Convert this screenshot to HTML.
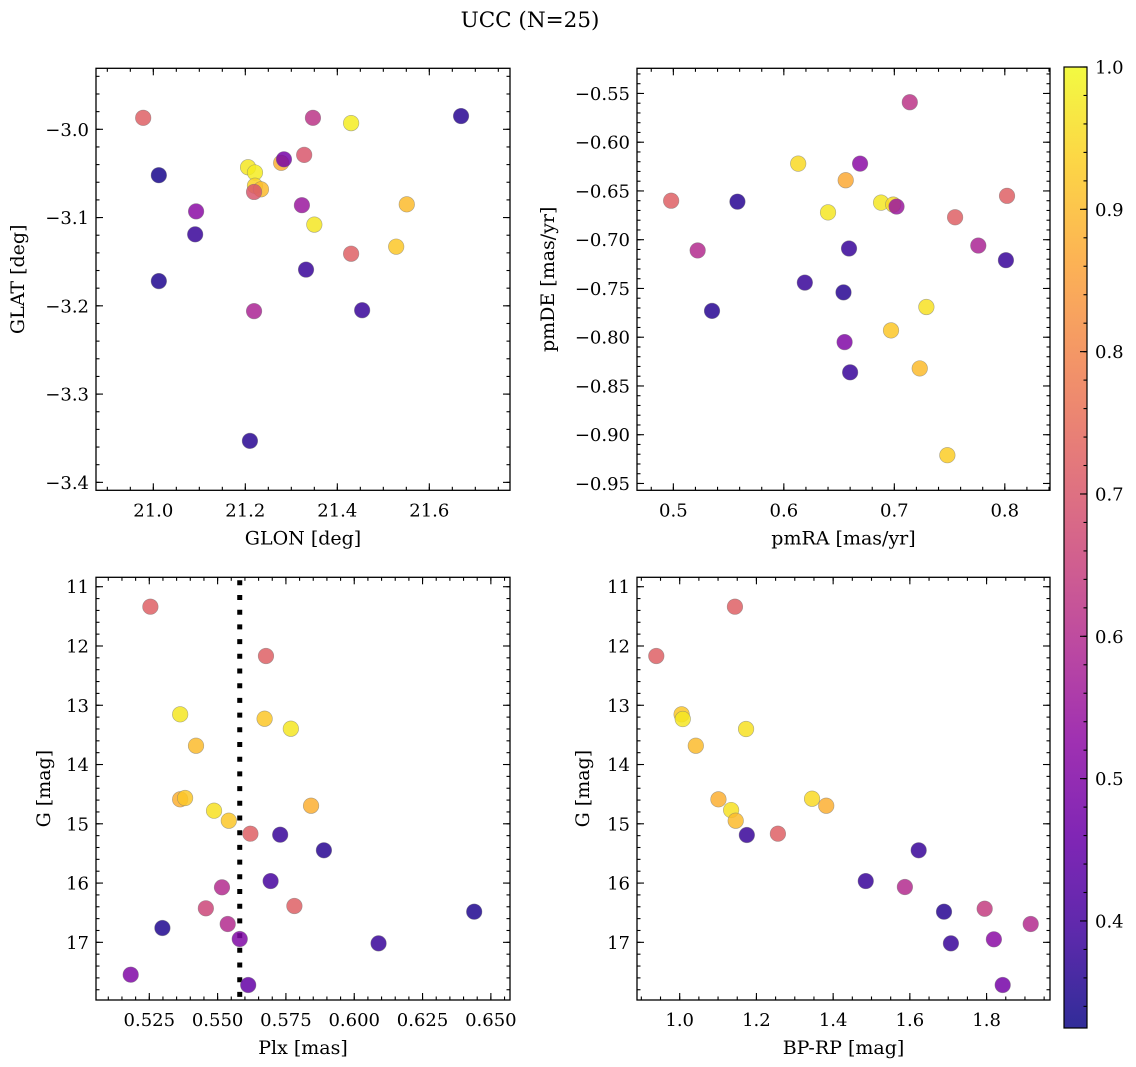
<!DOCTYPE html>
<html><head><meta charset="utf-8">
<style>
html,body{margin:0;padding:0;background:#fff;}
svg{display:block;font-family:"DejaVu Serif","Liberation Serif",serif;}
</style></head>
<body>
<svg id="fig" width="1136" height="1067" viewBox="0 0 1136 1067" xmlns="http://www.w3.org/2000/svg">
<text x="530" y="27" text-anchor="middle" font-size="21.5">UCC (N=25)</text>
</svg>
<script>
// Panel 1: GLON vs GLAT
const glonVals=[20.978,21.012,21.012,21.093,21.091,21.206,21.221,21.221,21.234,21.219,21.278,21.284,21.328,21.347,21.323,21.350,21.332,21.219,21.210,21.430,21.430,21.454,21.551,21.528,21.669];
const glatVals=[-2.987,-3.052,-3.172,-3.093,-3.119,-3.043,-3.049,-3.064,-3.068,-3.071,-3.038,-3.034,-3.029,-2.987,-3.086,-3.108,-3.159,-3.206,-3.353,-2.993,-3.141,-3.205,-3.085,-3.133,-2.985];
const probP1=[0.72,0.34,0.35,0.52,0.38,0.97,0.98,0.94,0.9,0.7,0.88,0.48,0.7,0.62,0.55,0.97,0.38,0.58,0.36,0.98,0.72,0.38,0.9,0.92,0.36];
// Panel 2: pmRA vs pmDE
const pmraVals=[0.498,0.522,0.535,0.558,0.619,0.613,0.640,0.656,0.659,0.654,0.655,0.660,0.669,0.688,0.699,0.702,0.697,0.729,0.723,0.748,0.714,0.755,0.776,0.802,0.801];
const pmdeVals=[-0.660,-0.711,-0.773,-0.661,-0.744,-0.622,-0.672,-0.639,-0.709,-0.754,-0.805,-0.836,-0.622,-0.662,-0.664,-0.666,-0.793,-0.769,-0.832,-0.921,-0.559,-0.677,-0.706,-0.655,-0.721];
const probP2=[0.72,0.6,0.36,0.36,0.38,0.95,0.97,0.87,0.38,0.36,0.5,0.38,0.52,0.97,0.95,0.55,0.92,0.96,0.9,0.93,0.62,0.72,0.58,0.72,0.38];
// Panel 3: Plx vs G
const plxVals=[0.5254,0.5677,0.5363,0.5672,0.5768,0.5421,0.5363,0.5381,0.5487,0.5541,0.5842,0.5620,0.5729,0.5889,0.5694,0.5516,0.5457,0.5781,0.6439,0.5298,0.5537,0.5581,0.6089,0.5182,0.5612];
const gP3Vals=[11.337,12.169,13.153,13.227,13.396,13.683,14.587,14.565,14.779,14.948,14.695,15.167,15.184,15.447,15.966,16.072,16.426,16.387,16.483,16.758,16.691,16.944,17.017,17.546,17.720];
const probP3=[0.72,0.72,0.97,0.92,0.97,0.9,0.88,0.92,0.96,0.92,0.88,0.72,0.38,0.36,0.4,0.6,0.66,0.72,0.35,0.35,0.6,0.5,0.38,0.5,0.45];
const plxLine=[0.5581];
// Panel 4: BP-RP vs G
const bprpVals=[0.939,1.005,1.008,1.042,1.144,1.173,1.101,1.134,1.146,1.175,1.256,1.345,1.382,1.485,1.623,1.587,1.689,1.707,1.795,1.819,1.842,1.915];
const gP4Vals=[12.169,13.153,13.232,13.683,11.337,13.401,14.587,14.768,14.948,15.189,15.167,14.577,14.695,15.966,15.447,16.067,16.483,17.017,16.433,16.949,17.720,16.691];
const probP4=[0.72,0.92,0.97,0.9,0.72,0.96,0.88,0.96,0.9,0.38,0.72,0.95,0.88,0.38,0.38,0.6,0.36,0.38,0.64,0.52,0.48,0.6];
// tick labels
const p1xTicks=[21.0,21.2,21.4,21.6];
const p1yTicks=[-3.0,-3.1,-3.2,-3.3,-3.4];
const p2xTicks=[0.5,0.6,0.7,0.8];
const p2yTicks=[-0.55,-0.60,-0.65,-0.70,-0.75,-0.80,-0.85,-0.90,-0.95];
const p3xTicks=[0.525,0.550,0.575,0.600,0.625,0.650];
const gTicks=[11,12,13,14,15,16,17];
const p4xTicks=[1.0,1.2,1.4,1.6,1.8];
const cbTicks=[0.4,0.5,0.6,0.7,0.8,0.9,1.0];
const cbRange=[0.3248,1.0];

const NS="http://www.w3.org/2000/svg";
const svg=document.getElementById('fig');
const TF=18, LF=19;
function mk(tag,attrs,parent){const e=document.createElementNS(NS,tag);for(const k in attrs)e.setAttribute(k,attrs[k]);(parent||svg).appendChild(e);return e;}
const stops=[[0,[13,8,135]],[0.1,[65,4,157]],[0.2,[106,0,168]],[0.3,[143,13,164]],[0.4,[177,42,144]],[0.5,[204,71,120]],[0.6,[225,100,98]],[0.7,[242,132,75]],[0.8,[252,166,54]],[0.9,[252,206,37]],[1,[240,249,33]]];
function plasma(t){t=Math.max(0,Math.min(1,t));for(let i=1;i<stops.length;i++){if(t<=stops[i][0]){const a=stops[i-1],b=stops[i];const f=(t-a[0])/(b[0]-a[0]);const c=a[1].map((v,j)=>Math.round(v+(b[1][j]-v)*f));return `rgb(${c[0]},${c[1]},${c[2]})`;}}return 'rgb(240,249,33)';}
function cnorm(p){return (p-cbRange[0])/(cbRange[1]-cbRange[0]);}
function fmt(v,d){const s=Math.abs(v).toFixed(d);return (v<0?'\u2212':'')+s;}

function panel(cfg){
  const g=mk('g',{});
  
  
  const {x0,x1,y0,y1,xmin,xmax,ymin,ymax,yInv}=cfg;
  const sx=v=>x0+(v-xmin)/(xmax-xmin)*(x1-x0);
  const sy=yInv?(v=>y0+(v-ymin)/(ymax-ymin)*(y1-y0)):(v=>y1-(v-ymin)/(ymax-ymin)*(y1-y0));
  const lo=Math.min(ymin,ymax),hi=Math.max(ymin,ymax);
  const tk=mk('g',{stroke:'#000','stroke-width':1.1},g);
  
  
  for(let i=Math.ceil(xmin/cfg.xminor-1e-6);i*cfg.xminor<=xmax+1e-9;i++){const X=sx(i*cfg.xminor);
    mk('line',{x1:X,x2:X,y1:y1,y2:y1-3.5},tk);mk('line',{x1:X,x2:X,y1:y0,y2:y0+3.5},tk);}
  for(let i=Math.ceil(lo/cfg.yminor-1e-6);i*cfg.yminor<=hi+1e-9;i++){const Y=sy(i*cfg.yminor);
    mk('line',{x1:x0,x2:x0+3.5,y1:Y,y2:Y},tk);mk('line',{x1:x1,x2:x1-3.5,y1:Y,y2:Y},tk);}
  cfg.xt.forEach(v=>{const X=sx(v);mk('line',{x1:X,x2:X,y1:y1,y2:y1-7},tk);mk('line',{x1:X,x2:X,y1:y0,y2:y0+7},tk);
    const t=mk('text',{x:X,y:y1+26,'text-anchor':'middle','font-size':TF},g);t.textContent=fmt(v,cfg.xd);
    
    });
  cfg.yt.forEach(v=>{const Y=sy(v);mk('line',{x1:x0,x2:x0+7,y1:Y,y2:Y},tk);mk('line',{x1:x1,x2:x1-7,y1:Y,y2:Y},tk);
    const t=mk('text',{x:x0-7,y:Y+6.5,'text-anchor':'end','font-size':TF},g);t.textContent=fmt(v,cfg.yd);
    
    });
  if(cfg.vline){cfg.vline.forEach(v=>{const l=mk('line',{x1:sx(v),x2:sx(v),y1:y0+3,y2:y1,stroke:'#000','stroke-width':5,'stroke-dasharray':'5 9.7'},g);
    
    });}
  cfg.xs.forEach((v,i)=>{const c=mk('circle',{cx:sx(v),cy:sy(cfg.ys[i]),r:7.8,fill:plasma(cnorm(cfg.ps[i])),'fill-opacity':0.85,stroke:'#777','stroke-opacity':0.6,'stroke-width':0.6},g);
    
    });
  const fr=mk('rect',{x:x0,y:y0,width:x1-x0,height:y1-y0,fill:'none',stroke:'#000','stroke-width':1.3},g);
  
  
  const xl=mk('text',{x:(x0+x1)/2,y:y1+54,'text-anchor':'middle','font-size':LF},g);xl.textContent=cfg.xlabel;
  
  
  const yc=(y0+y1)/2;
  const yl=mk('text',{x:cfg.ylx,y:yc,'text-anchor':'middle','font-size':LF,transform:`rotate(-90 ${cfg.ylx} ${yc})`},g);yl.textContent=cfg.ylabel;
  
  
}
panel({name:'glon-glat-panel',x0:96,x1:510,y0:68.3,y1:490.3,xmin:20.8754,xmax:21.7754,ymin:-3.409,ymax:-2.9309,xminor:0.05,yminor:0.02,xt:p1xTicks,yt:p1yTicks,xd:1,yd:1,xs:glonVals,ys:glatVals,ps:probP1,xlabel:'GLON [deg]',ylabel:'GLAT [deg]',ylx:24});
panel({name:'pm-panel',x0:637,x1:1050,y0:68.3,y1:490.3,xmin:0.4671,xmax:0.8409,ymin:-0.957,ymax:-0.5242,xminor:0.02,yminor:0.01,xt:p2xTicks,yt:p2yTicks,xd:1,yd:2,xs:pmraVals,ys:pmdeVals,ps:probP2,xlabel:'pmRA [mas/yr]',ylabel:'pmDE [mas/yr]',ylx:554});
panel({name:'plx-g-panel',x0:96,x1:510,y0:577.3,y1:1000,xmin:0.5055,xmax:0.6570,ymin:10.841,ymax:17.973,yInv:true,xminor:0.005,yminor:0.2,xt:p3xTicks,yt:gTicks,xd:3,yd:0,xs:plxVals,ys:gP3Vals,ps:probP3,vline:plxLine,xlabel:'Plx [mas]',ylabel:'G [mag]',ylx:50});
panel({name:'cmd-panel',x0:637,x1:1050,y0:577.3,y1:1000,xmin:0.8887,xmax:1.9653,ymin:10.841,ymax:17.973,yInv:true,xminor:0.05,yminor:0.2,xt:p4xTicks,yt:gTicks,xd:1,yd:0,xs:bprpVals,ys:gP4Vals,ps:probP4,xlabel:'BP-RP [mag]',ylabel:'G [mag]',ylx:589});

// colorbar
const cbx0=1064,cbx1=1087,cby0=67,cby1=1028;
const defs=mk('defs',{});
const lg=mk('linearGradient',{id:'cbgrad',x1:0,y1:1,x2:0,y2:0},defs);
for(let i=0;i<=20;i++){mk('stop',{offset:i/20,'stop-color':plasma(i/20)},lg);}
const cbg=mk('g',{});


mk('rect',{x:cbx0,y:cby0,width:cbx1-cbx0,height:cby1-cby0,fill:'url(#cbgrad)','fill-opacity':0.85},cbg);
const csy=v=>cby1-(v-cbRange[0])/(cbRange[1]-cbRange[0])*(cby1-cby0);
for(let i=Math.ceil(cbRange[0]/0.02-1e-6);i*0.02<=cbRange[1]+1e-9;i++){const Y=csy(i*0.02);mk('line',{x1:cbx1,x2:cbx1-3.5,y1:Y,y2:Y,stroke:'#000','stroke-width':1.1},cbg);}
cbTicks.forEach(v=>{const Y=csy(v);mk('line',{x1:cbx1,x2:cbx1-7,y1:Y,y2:Y,stroke:'#000','stroke-width':1.1},cbg);
  const t=mk('text',{x:cbx1+8,y:Y+6.5,'font-size':TF},cbg);t.textContent=v.toFixed(1);
  
  });
mk('rect',{x:cbx0,y:cby0,width:cbx1-cbx0,height:cby1-cby0,fill:'none',stroke:'#000','stroke-width':1.2},cbg);
</script>
</body></html>
